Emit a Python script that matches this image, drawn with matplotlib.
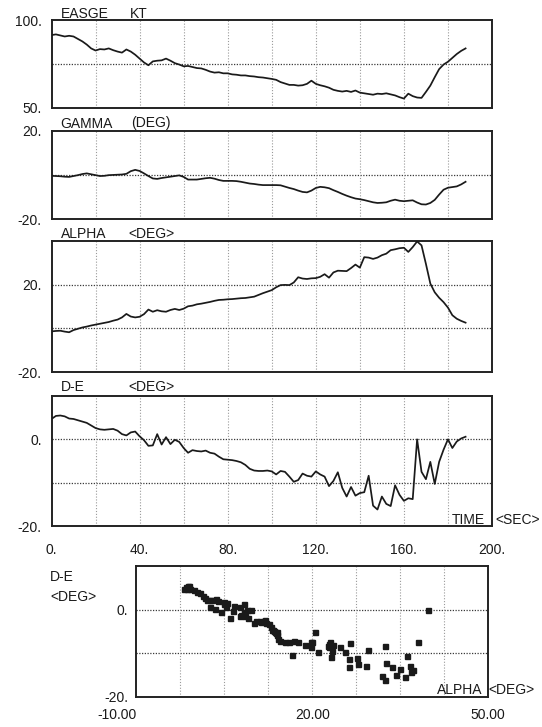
import numpy as np
import matplotlib
matplotlib.use("Agg")
import matplotlib.pyplot as plt

plt.rcParams['font.family'] = ['Liberation Sans', 'DejaVu Sans']

# ---- data (sampled every 2 s) ----
time_sec = list(range(0, 190, 2))

easge_kt = [
    91.4, 91.8, 91.2, 90.6, 91.0, 90.6, 89.2, 87.8, 86.0, 83.8,
    82.6, 83.4, 83.2, 83.8, 82.8, 82.0, 81.4, 83.2, 82.0, 80.2,
    78.0, 75.8, 74.2, 76.4, 76.8, 77.0, 78.0, 76.8, 75.4, 74.6,
    73.6, 73.8, 73.2, 72.6, 72.4, 71.6, 70.6, 70.0, 70.2, 69.6,
    69.6, 69.0, 68.8, 68.4, 68.4, 68.0, 67.8, 67.4, 67.2, 66.8,
    66.4, 65.9, 64.6, 63.8, 63.0, 63.0, 62.6, 62.8, 63.6, 65.4,
    63.6, 62.8, 62.2, 61.4, 60.2, 59.6, 59.2, 59.6, 59.0, 59.8,
    58.6, 58.2, 57.8, 57.4, 58.0, 57.8, 58.2, 57.6, 57.0, 56.0,
    55.2, 58.0, 56.6, 55.8, 55.6, 59.0, 62.6, 67.4, 72.0, 74.6,
    76.2, 78.4, 80.6, 82.4, 83.8,
]

gamma_deg = [
    -0.3, -0.4, -0.5, -0.7, -0.8, -0.4, 0.0, 0.5, 0.8, 0.4,
    0.0, -0.4, -0.3, 0.0, 0.1, 0.2, 0.3, 0.6, 1.8, 2.4,
    1.9, 0.8, -0.4, -1.5, -1.7, -1.3, -1.0, -0.7, -0.4, -0.1,
    -0.8, -2.0, -2.0, -2.0, -1.7, -1.4, -1.2, -1.6, -2.2, -2.6,
    -2.6, -2.6, -2.7, -3.0, -3.4, -3.8, -4.0, -4.3, -4.5, -4.5,
    -4.5, -4.5, -4.6, -5.2, -5.8, -6.3, -7.0, -7.6, -7.8, -7.0,
    -5.8, -5.3, -5.5, -5.9, -6.8, -7.6, -8.5, -9.3, -10.0, -10.6,
    -10.9, -11.3, -11.8, -12.3, -12.6, -12.5, -12.3, -11.6, -11.1, -11.6,
    -11.8, -11.6, -11.4, -12.4, -13.2, -13.3, -12.6, -11.2, -8.8, -6.6,
    -5.7, -5.4, -5.1, -4.2, -3.0,
]

alpha_deg = [
    -1.4, -1.2, -1.1, -1.5, -1.8, -0.8, -0.2, 0.4, 0.8, 1.3,
    1.7, 2.1, 2.5, 2.9, 3.5, 4.0, 5.0, 6.6, 5.4, 5.0,
    5.3, 6.5, 8.6, 7.6, 8.3, 7.8, 7.6, 8.4, 8.9, 8.4,
    9.0, 10.1, 10.4, 11.0, 11.3, 11.7, 12.1, 12.6, 13.0, 13.1,
    13.3, 13.4, 13.6, 13.8, 13.9, 14.2, 14.5, 15.3, 16.1, 16.8,
    17.5, 18.8, 19.8, 19.9, 19.8, 21.0, 23.4, 22.8, 22.6, 22.9,
    23.0, 23.6, 24.8, 23.2, 25.6, 26.4, 26.3, 26.2, 27.6, 29.2,
    27.8, 32.6, 32.4, 31.8, 32.4, 33.5, 34.2, 35.8, 36.2, 36.7,
    36.9, 35.0, 37.2, 39.8, 38.0, 29.5, 20.5, 16.5, 14.0, 12.0,
    9.5, 6.0, 4.4, 3.4, 2.6,
]

de_deg = [
    4.7, 5.4, 5.5, 5.3, 4.8, 4.7, 4.4, 4.1, 3.8, 3.2,
    2.6, 2.3, 2.2, 2.3, 2.4, 2.0, 1.2, 0.9, 1.6, 1.8,
    0.7, -0.2, -1.5, -1.4, 1.2, -1.2, 0.5, -1.1, -0.1, -0.6,
    -2.0, -3.1, -2.5, -2.7, -2.8, -2.6, -3.1, -3.3, -4.0, -4.6,
    -4.7, -4.8, -5.0, -5.3, -5.9, -6.8, -7.2, -7.3, -7.3, -7.2,
    -7.4, -8.1, -7.3, -7.5, -8.6, -9.8, -9.4, -7.9, -8.4, -8.6,
    -7.4, -8.1, -8.6, -10.8, -9.6, -7.6, -11.2, -13.2, -11.0, -13.0,
    -12.4, -12.2, -8.4, -15.3, -16.2, -13.2, -14.9, -15.4, -10.6, -12.8,
    -14.2, -13.6, -13.8, 0.0, -7.5, -9.2, -5.2, -10.3, -5.2, -2.4,
    0.0, -2.0, -0.5, 0.2, 0.6,
]

time_ticks = [0, 40, 80, 120, 160, 200]
time_tick_labels = ["0.", "40.", "80.", "120.", "160.", "200."]
alpha_ticks = [-10, 20, 50]
alpha_tick_labels = ["-10.00", "20.00", "50.00"]

# ---- figure ----
W, H = 542, 727
fig = plt.figure(figsize=(W / 100, H / 100), dpi=100)
fig.patch.set_facecolor('white')

LINE_C = '#1a1a1a'
FS = 10


def px_axes(left, top, right, bottom):
    return fig.add_axes([left / W, 1 - bottom / H, (right - left) / W, (bottom - top) / H])


def style(ax, ylim, hgrid, vgrid, xlim):
    ax.set_xlim(*xlim)
    ax.set_ylim(*ylim)
    for s in ax.spines.values():
        s.set_linewidth(1.4)
        s.set_color('#222222')
    ax.tick_params(axis='both', which='both', length=0, labelsize=FS, colors='#1a1a1a')
    ax.tick_params(axis='y', pad=7)
    for g in hgrid:
        ax.axhline(g, color='#3a3a3a', lw=0.9, ls=(0, (1, 1.2)), zorder=1)
    for g in vgrid:
        ax.axvline(g, color='#9a9a9a', lw=0.8, ls=(0, (1, 1.6)), zorder=1)


LEFT, RIGHT = 51.5, 492
vg = list(range(20, 200, 20))

# Panel 1
ax1 = px_axes(LEFT, 20, RIGHT, 107.7)
style(ax1, (50, 100), [75], vg, (0, 200))
ax1.set_yticks([50, 100], ["50.", "100."])
ax1.plot(time_sec, easge_kt, color=LINE_C, lw=1.25, zorder=3)
ax1.set_xticks([])

# Panel 2
ax2 = px_axes(LEFT, 131, RIGHT, 219.3)
style(ax2, (-20, 20), [0], vg, (0, 200))
ax2.set_yticks([-20, 20], ["-20.", "20."])
ax2.plot(time_sec, gamma_deg, color=LINE_C, lw=1.25, zorder=3)
ax2.set_xticks([])

# Panel 3
ax3 = px_axes(LEFT, 241, RIGHT, 372)
style(ax3, (-20, 40), [0, 20], vg, (0, 200))
ax3.set_yticks([-20, 20], ["-20.", "20."])
ax3.plot(time_sec, alpha_deg, color=LINE_C, lw=1.25, zorder=3)
ax3.set_xticks([])

# Panel 4
ax4 = px_axes(LEFT, 396, RIGHT, 526)
style(ax4, (-20, 10), [0, -10], vg, (0, 200))
ax4.set_yticks([-20, 0], ["-20.", "0."])
ax4.plot(time_sec, de_deg, color=LINE_C, lw=1.25, zorder=3)
ax4.set_xticks(time_ticks, time_tick_labels)
ax4.tick_params(axis='x', pad=12)

# Panel 5 (scatter)
ax5 = px_axes(136.3, 566, 488.3, 697)
style(ax5, (-20, 10), [0, -10], list(np.arange(-2.5, 50, 7.5)), (-10, 50))
ax5.set_yticks([-20, 0], ["-20.", "0."])
ax5.tick_params(axis='y', pad=6)
ax5.plot(alpha_deg, de_deg, ls='none', marker='s', ms=3.6, mec=LINE_C, mfc=LINE_C, zorder=3)
ax5.set_xticks(alpha_ticks, alpha_tick_labels)
ax5.tick_params(axis='x', pad=8)
ax5.get_xticklabels()[0].set_horizontalalignment('right')


def ftext(x, y, s, ha='left', va='center'):
    fig.text(x / W, 1 - y / H, s, ha=ha, va=va, fontsize=FS, color='#1a1a1a')


ftext(60.5, 13.5, "EASGE")
ftext(130, 13.5, "KT")
ftext(60.5, 123.5, "GAMMA")
ftext(131, 123.5, "(DEG)")
ftext(60.5, 233.5, "ALPHA")
ftext(128, 233.5, "<DEG>")
ftext(60.5, 387, "D-E")
ftext(128, 387, "<DEG>")
ftext(485, 520, "TIME", ha='right')
ftext(495, 520, "<SEC>")
ftext(50, 577, "D-E")
ftext(50, 597, "<DEG>")
ftext(482, 690, "ALPHA", ha='right')
ftext(488.5, 690, "<DEG>")

fig.savefig("out.png", dpi=100, facecolor='white')
